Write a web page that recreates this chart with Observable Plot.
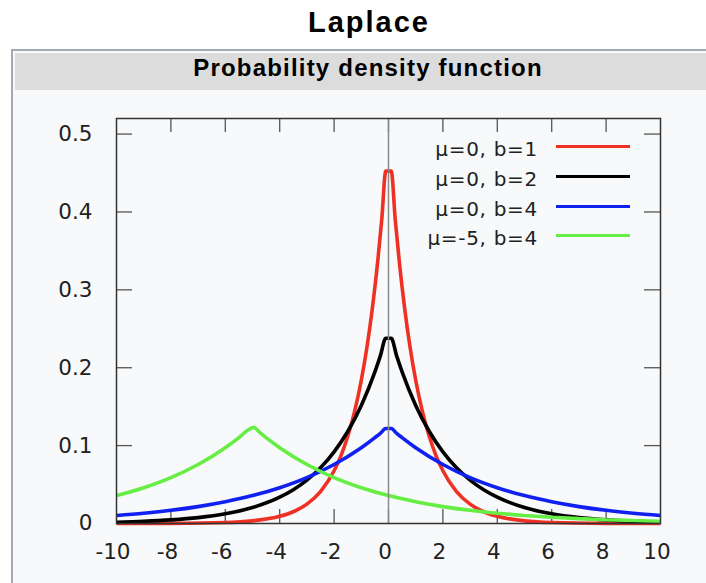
<!DOCTYPE html>
<html><head><meta charset="utf-8">
<script src="https://cdn.jsdelivr.net/npm/d3@7"></script>
<script src="https://cdn.jsdelivr.net/npm/@observablehq/plot@0.6"></script>
<style>
body{margin:0;background:#fff;width:706px;height:583px;overflow:hidden;position:relative;font-family:"Liberation Sans",Arial,sans-serif;}
#title{position:absolute;left:0;width:738px;top:8px;text-align:center;font-weight:bold;font-size:29px;line-height:29px;letter-spacing:2px;color:#000;}
#box{position:absolute;left:11px;top:49px;width:760px;height:620px;border:2px solid #a2a9b1;background:#f8f9fa;}
#hdr{position:absolute;left:2px;top:2px;width:754px;height:37px;background:#dcdcdc;}
#hdrtext{position:absolute;left:0;width:736px;top:56px;text-align:center;font-weight:bold;font-size:24px;line-height:24px;letter-spacing:1.2px;color:#000;}
#plot{position:absolute;left:0;top:100px;}
#legend{position:absolute;left:0;top:0;width:706px;height:583px;pointer-events:none;}
.lt{position:absolute;right:168px;height:30px;line-height:30px;font-family:"DejaVu Sans",sans-serif;font-size:20px;letter-spacing:0.7px;color:#222;white-space:nowrap;}
.ll{position:absolute;left:556px;width:74px;height:3px;}
</style>
</head><body>
<div id="title">Laplace</div>
<div id="box"><div id="hdr"></div></div>
<div id="hdrtext">Probability density function</div>
<div id="plot"></div>
<div id="legend"></div>
<script>
// ---- data ----
const seriesLabels = ["μ=0, b=1", "μ=0, b=2", "μ=0, b=4", "μ=-5, b=4"];
const seriesColors = ["#ee3124", "#000000", "#1020f0", "#66ee44"];

const xTicks = [-10, -8, -6, -4, -2, 0, 2, 4, 6, 8, 10];
const xTickLabels = ["-10", "-8", "-6", "-4", "-2", "0", "2", "4", "6", "8", "10"];
const yTicks = [0, 0.1, 0.2, 0.3, 0.4, 0.5];
const yTickLabels = ["0", "0.1", "0.2", "0.3", "0.4", "0.5"];

// μ=0, b=1 (red)
const xRed = [-10, -8, -6, -5, -4, -3.5, -3, -2.5, -2, -1.75, -1.5, -1.25, -1, -0.8, -0.6, -0.4, -0.25, -0.1,
              0.1, 0.25, 0.4, 0.6, 0.8, 1, 1.25, 1.5, 1.75, 2, 2.5, 3, 3.5, 4, 5, 6, 8, 10];
const yRed = [0.0000, 0.0002, 0.0012, 0.0034, 0.0092, 0.0151, 0.0249, 0.0410, 0.0677, 0.0869, 0.1116, 0.1433, 0.1839, 0.2247, 0.2744, 0.3352, 0.3894, 0.4524,
              0.4524, 0.3894, 0.3352, 0.2744, 0.2247, 0.1839, 0.1433, 0.1116, 0.0869, 0.0677, 0.0410, 0.0249, 0.0151, 0.0092, 0.0034, 0.0012, 0.0002, 0.0000];

// μ=0, b=2 (black)
const xBlack = [-10, -9, -8, -7, -6, -5, -4, -3.5, -3, -2.5, -2, -1.5, -1, -0.5, -0.3, -0.1,
                0.1, 0.3, 0.5, 1, 1.5, 2, 2.5, 3, 3.5, 4, 5, 6, 7, 8, 9, 10];
const yBlack = [0.0017, 0.0028, 0.0046, 0.0075, 0.0124, 0.0205, 0.0338, 0.0434, 0.0558, 0.0716, 0.0920, 0.1181, 0.1516, 0.1947, 0.2152, 0.2378,
                0.2378, 0.2152, 0.1947, 0.1516, 0.1181, 0.0920, 0.0716, 0.0558, 0.0434, 0.0338, 0.0205, 0.0124, 0.0075, 0.0046, 0.0028, 0.0017];

// μ=0, b=4 (blue)
const xBlue = [-10, -9, -8, -7, -6, -5, -4, -3, -2, -1, -0.5, -0.3, -0.1,
               0.1, 0.3, 0.5, 1, 2, 3, 4, 5, 6, 7, 8, 9, 10];
const yBlue = [0.0103, 0.0132, 0.0169, 0.0217, 0.0279, 0.0358, 0.0460, 0.0590, 0.0758, 0.0973, 0.1103, 0.1158, 0.1219,
               0.1219, 0.1158, 0.1103, 0.0973, 0.0758, 0.0590, 0.0460, 0.0358, 0.0279, 0.0217, 0.0169, 0.0132, 0.0103];

// μ=-5, b=4 (green)
const xGreen = [-10, -9, -8, -7, -6, -5.5, -5.15, -4.95, -4.75, -4.5, -4, -3, -2, -1, 0, 1, 2, 3, 4, 5, 6, 7, 8, 9, 10];
const yGreen = [0.0358, 0.0460, 0.0590, 0.0758, 0.0973, 0.1103, 0.1204, 0.1234, 0.1174, 0.1103, 0.0973, 0.0758, 0.0590, 0.0460, 0.0358,
                0.0279, 0.0217, 0.0169, 0.0132, 0.0103, 0.0080, 0.0062, 0.0048, 0.0038, 0.0029];

// ---- build table ----
const seriesX = [xRed, xBlack, xBlue, xGreen];
const seriesY = [yRed, yBlack, yBlue, yGreen];
const rows = [];
seriesLabels.forEach((s, k) => seriesX[k].forEach((x, i) => rows.push({x, y: seriesY[k][i], s})));

const W = 706, H = 483, mL = 116, mR = 46, mT = 18, mB = 60;
const frameW = W - mL - mR, frameH = H - mT - mB, tick = 14;
const innerX = xTicks.slice(1, -1);
const innerY = yTicks.filter(d => d > 0);

const chart = Plot.plot({
  width: W, height: H,
  marginLeft: mL, marginRight: mR, marginTop: mT, marginBottom: mB,
  style: {fontFamily: "DejaVu Sans, sans-serif", fontSize: "21.5px", color: "#222", background: "transparent", overflow: "visible"},
  x: {domain: [-10, 10], label: null},
  y: {domain: [0, 0.52], label: null},
  color: {domain: seriesLabels, range: seriesColors},
  marks: [
    Plot.ruleX(innerX, {insetTop: frameH - tick, stroke: "#555", strokeWidth: 1.3}),
    Plot.ruleX(innerX, {insetBottom: frameH - tick, stroke: "#555", strokeWidth: 1.3}),
    Plot.ruleY(innerY, {insetRight: frameW - tick - 2, stroke: "#555", strokeWidth: 1.3}),
    Plot.ruleY(innerY, {insetLeft: frameW - tick - 2, stroke: "#555", strokeWidth: 1.3}),
    Plot.line(rows, {x: "x", y: "y", z: "s", stroke: "s", curve: "monotone-x", strokeWidth: 3.6, strokeLinejoin: "miter", strokeLinecap: "butt"}),
    Plot.ruleX([0], {stroke: "#8a8a8a", strokeWidth: 1.5}),
    Plot.frame({stroke: "#333", strokeWidth: 1.5}),
    Plot.axisX(xTicks, {label: null, tickSize: 0, tickPadding: 20, dx: -3.5, tickFormat: d => xTickLabels[xTicks.indexOf(d)]}),
    Plot.axisY(yTicks, {label: null, tickSize: 0, tickPadding: 24, tickFormat: d => yTickLabels[yTicks.indexOf(d)]})
  ]
});
document.getElementById("plot").appendChild(chart);

// ---- legend ----
const legend = document.getElementById("legend");
seriesLabels.forEach((s, i) => {
  const lineC = 146.7 + i * 29.7;
  const t = document.createElement("div");
  t.className = "lt"; t.textContent = s; t.style.top = (lineC + 2.6 - 15) + "px";
  legend.appendChild(t);
  const l = document.createElement("div");
  l.className = "ll"; l.style.top = (lineC - 1.5) + "px"; l.style.background = seriesColors[i];
  legend.appendChild(l);
});
</script>
</body></html>
